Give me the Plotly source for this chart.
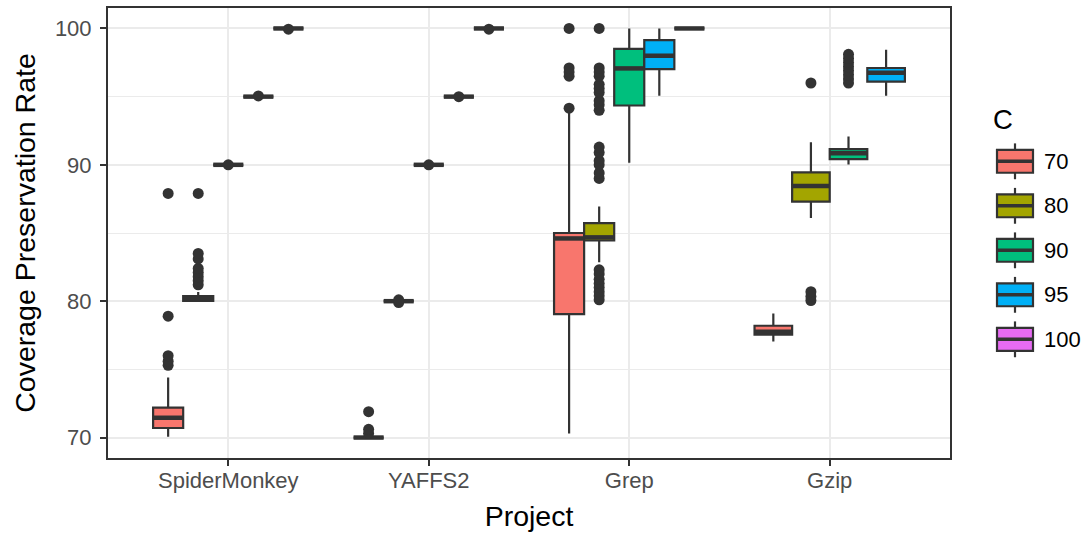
import plotly.graph_objects as go

# ---------------- data ----------------
projects = ["SpiderMonkey", "YAFFS2", "Grep", "Gzip"]
levels = ["70", "80", "90", "95", "100"]
colors = ["#F8766D", "#A3A500", "#00BF7D", "#00B0F6", "#E76BF3"]

# box statistics per level, in the order of `projects` (None = no data)
q1 = {
    "70":  [70.70, 70.00, 79.05, 77.55],
    "80":  [80.02, 80.00, 84.45, 87.30],
    "90":  [90.00, 90.00, 94.35, 90.42],
    "95":  [95.00, 95.00, 97.02, 96.10],
    "100": [100.0, 100.0, 100.0, None],
}
median = {
    "70":  [71.45, 70.00, 84.60, 77.75],
    "80":  [80.20, 80.00, 84.68, 88.45],
    "90":  [90.00, 90.00, 97.07, 90.85],
    "95":  [95.00, 95.00, 98.00, 96.76],
    "100": [100.0, 100.0, 100.0, None],
}
q3 = {
    "70":  [72.20, 70.00, 85.00, 78.20],
    "80":  [80.37, 80.00, 85.72, 89.45],
    "90":  [90.00, 90.00, 98.50, 91.15],
    "95":  [95.00, 95.00, 99.15, 97.10],
    "100": [100.0, 100.0, 100.0, None],
}
lower = {
    "70":  [70.05, 70.00, 70.30, 77.05],
    "80":  [80.00, 80.00, 82.85, 86.10],
    "90":  [90.00, 90.00, 90.15, 90.03],
    "95":  [95.00, 95.00, 95.07, 95.07],
    "100": [100.0, 100.0, 100.0, None],
}
upper = {
    "70":  [74.40, 70.00, 94.00, 79.10],
    "80":  [80.68, 80.00, 86.95, 91.65],
    "90":  [90.00, 90.00, 100.0, 92.08],
    "95":  [95.00, 95.00, 100.0, 98.44],
    "100": [100.0, 100.0, 100.0, None],
}
outliers = {
    "70": [
        [75.3, 75.6, 76.0, 78.9, 87.9],
        [70.3, 70.6, 71.9],
        [94.15, 96.5, 96.8, 97.1, 100.0],
        [],
    ],
    "80": [
        [81.2, 81.5, 81.8, 82.1, 82.4, 83.1, 83.5, 87.9],
        [79.9, 80.1],
        [80.1, 80.4, 80.7, 81.0, 81.3, 81.6, 82.0, 82.3,
         89.0, 89.4, 90.0, 90.3, 90.9, 91.3, 94.0, 94.4, 94.7,
         95.3, 95.6, 95.9, 96.5, 96.8, 97.1, 100.0],
        [80.05, 80.35, 80.7, 96.0],
    ],
    "90": [
        [90.0],
        [90.0],
        [],
        [96.0, 96.3, 96.6, 96.9, 97.2, 97.5, 97.8, 98.1],
    ],
    "95": [[95.05], [95.0], [], []],
    "100": [[99.95], [99.95], [], []],
}

# ---------------- styling ----------------
DARK = "#333333"
GRID = "#EBEBEB"
FONT = "Liberation Sans, Arial, Helvetica, sans-serif"
DODGE = 0.75
TICK_SIZE = 22
TITLE_SIZE = 28.5

fig = go.Figure()

med_x, med_y = [], []
out_x, out_y = [], []
for pi, proj in enumerate(projects):
    present = [lv for lv in levels if median[lv][pi] is not None]
    n = len(present)
    w = DODGE / n
    for j, lv in enumerate(present):
        xc = (pi + 1) - DODGE / 2 + (j + 0.5) * w
        ci = levels.index(lv)
        fig.add_trace(go.Box(
            x=[xc],
            q1=[q1[lv][pi]], median=[median[lv][pi]], q3=[q3[lv][pi]],
            lowerfence=[lower[lv][pi]], upperfence=[upper[lv][pi]],
            width=w,
            boxpoints=False,
            whiskerwidth=0,
            fillcolor=colors[ci],
            line=dict(color=DARK, width=2.2),
            name=lv,
            showlegend=False,
            hoverinfo="skip",
        ))
        med_x += [xc - w / 2, xc + w / 2, None]
        med_y += [median[lv][pi], median[lv][pi], None]
        for v in outliers[lv][pi]:
            out_x.append(xc)
            out_y.append(v)

# fattened median lines (ggplot style)
fig.add_trace(go.Scatter(
    x=med_x, y=med_y, mode="lines",
    line=dict(color=DARK, width=4.5),
    showlegend=False, hoverinfo="skip",
))
# outliers
fig.add_trace(go.Scatter(
    x=out_x, y=out_y, mode="markers",
    marker=dict(color=DARK, size=11, line=dict(width=0)),
    showlegend=False, hoverinfo="skip",
))

# ---------------- custom ggplot-like legend ----------------
L, R, T, B = 108, 950, 6, 458
PW, PH = R - L, B - T


def px(xp):
    return (xp - L) / PW


def py(yp):
    return (B - yp) / PH


shapes = []
annotations = []
key_cx, key_half_w = 1015, 18
for i, (lv, col) in enumerate(zip(levels, colors)):
    cy = 160 + 44.7 * i
    shapes.append(dict(type="line", xref="paper", yref="paper",
                       x0=px(key_cx), x1=px(key_cx), y0=py(cy - 18), y1=py(cy + 18),
                       line=dict(color=DARK, width=2.2)))
    shapes.append(dict(type="rect", xref="paper", yref="paper",
                       x0=px(key_cx - key_half_w), x1=px(key_cx + key_half_w),
                       y0=py(cy - 11.5), y1=py(cy + 11.5),
                       fillcolor=col, line=dict(color=DARK, width=2.2)))
    shapes.append(dict(type="line", xref="paper", yref="paper",
                       x0=px(key_cx - key_half_w), x1=px(key_cx + key_half_w),
                       y0=py(cy), y1=py(cy),
                       line=dict(color=DARK, width=3.5)))
    annotations.append(dict(xref="paper", yref="paper", x=px(1042), y=py(cy),
                            xanchor="left", yanchor="middle", showarrow=False,
                            text=lv, font=dict(family=FONT, size=TICK_SIZE, color="black")))
annotations.append(dict(xref="paper", yref="paper", x=px(991), y=py(118),
                        xanchor="left", yanchor="middle", showarrow=False,
                        text="C", font=dict(family=FONT, size=TITLE_SIZE - 1, color="black")))

fig.update_layout(
    width=1087, height=534,
    margin=dict(l=L, r=1087 - R, t=T, b=534 - B),
    paper_bgcolor="white", plot_bgcolor="white",
    boxmode="overlay",
    showlegend=False,
    font=dict(family=FONT, color="black"),
    shapes=shapes,
    annotations=annotations,
    xaxis=dict(
        range=[0.4, 4.6],
        tickvals=[1, 2, 3, 4], ticktext=projects,
        showgrid=True, gridcolor=GRID, gridwidth=2,
        zeroline=False,
        showline=True, linecolor=DARK, linewidth=2, mirror=True,
        ticks="outside", ticklen=6, tickwidth=2, tickcolor=DARK,
        ticklabelstandoff=-4,
        tickfont=dict(family=FONT, size=TICK_SIZE, color="#4D4D4D"),
        title=dict(text="Project", font=dict(family=FONT, size=TITLE_SIZE, color="black"), standoff=14),
    ),
    yaxis=dict(
        range=[68.5, 101.5],
        tickvals=[70, 80, 90, 100],
        showgrid=True, gridcolor=GRID, gridwidth=2,
        minor=dict(tickvals=[75, 85, 95], showgrid=True, gridcolor=GRID, gridwidth=1),
        zeroline=False,
        showline=True, linecolor=DARK, linewidth=2, mirror=True,
        ticks="outside", ticklen=6, tickwidth=2, tickcolor=DARK,
        ticklabelstandoff=4,
        tickfont=dict(family=FONT, size=TICK_SIZE, color="#4D4D4D"),
        title=dict(text="Coverage Preservation Rate", font=dict(family=FONT, size=TITLE_SIZE, color="black"), standoff=11),
    ),
)

fig.write_html("out.html")
